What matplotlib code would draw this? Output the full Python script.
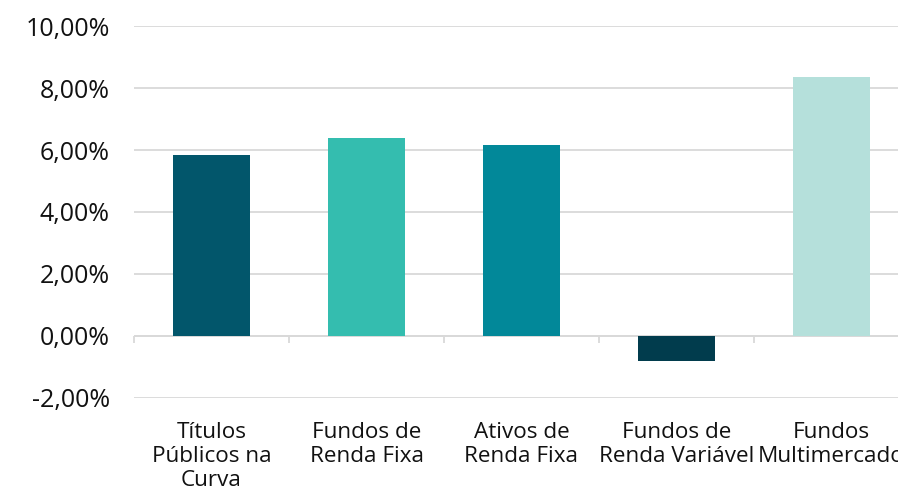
import matplotlib.pyplot as plt
import numpy as np
from matplotlib.ticker import FuncFormatter

categorias = ['Títulos\nPúblicos na\nCurva', 'Fundos de\nRenda Fixa', 'Ativos de\nRenda Fixa',
              'Fundos de\nRenda Variável', 'Fundos\nMultimercado']
retornos = [5.85, 6.40, 6.15, -0.82, 8.37]
cores = ['#02566B', '#34BDAF', '#028899', '#013C4D', '#B5E0DB']
y_ticks = [-2, 0, 2, 4, 6, 8, 10]

plt.rcParams['font.family'] = ['Open Sans', 'DejaVu Sans']

fig = plt.figure(figsize=(8.98, 4.96), dpi=100)
ax = fig.add_axes([134 / 898, 98 / 496, 775 / 898, 372 / 496])

x = np.arange(len(categorias))
ax.bar(x, retornos, width=0.5, color=cores, zorder=3)

ax.set_xlim(-0.5, len(categorias) - 0.5)
ax.set_ylim(-2, 10)
ax.set_yticks(y_ticks)
ax.yaxis.set_major_formatter(FuncFormatter(lambda v, p: f'{v:.2f}%'.replace('.', ',')))
ax.grid(axis='y', color='#D9D9D9', linewidth=1.3, zorder=0)
ax.axhline(0, color='#D9D9D9', linewidth=1.3, zorder=2)

# marcas entre categorias abaixo da linha do zero
limites = np.arange(len(categorias) + 1) - 0.5
ax.vlines(limites, -0.23, 0, color='#D9D9D9', linewidth=1.3, zorder=2, clip_on=False)

for s in ax.spines.values():
    s.set_visible(False)

ax.set_xticks(x)
ax.set_xticklabels(categorias, fontsize=16.2, linespacing=1.2, color='#111111')
ax.tick_params(axis='x', length=0, pad=17)
ax.tick_params(axis='y', length=0, pad=17.5, labelsize=18, labelcolor='#111111')

fig.savefig('out.png', dpi=100)
